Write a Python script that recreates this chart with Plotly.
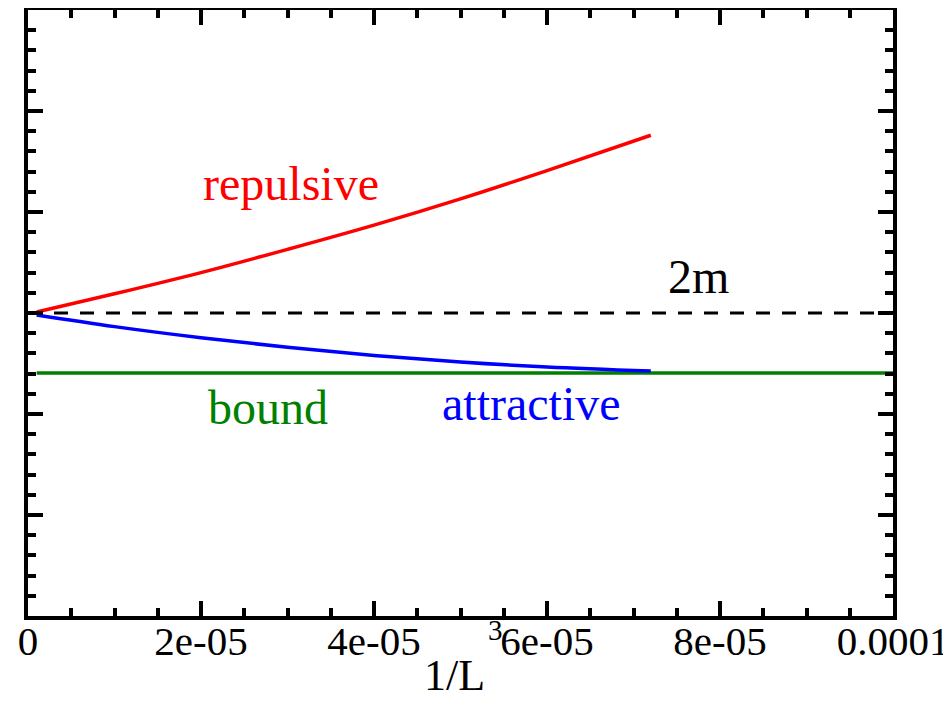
import plotly.graph_objects as go

# Data
x_curve = [1e-6, 1e-5, 2e-5, 3e-5, 4e-5, 5e-5, 6e-5, 7.2e-5]
y_repulsive = [3.01, 3.19, 3.40, 3.63, 3.87, 4.13, 4.41, 4.76]
y_attractive = [2.98, 2.865, 2.755, 2.66, 2.58, 2.515, 2.465, 2.425]
x_bound = [1e-6, 1e-4]
y_bound = [2.406, 2.406]
x_2m = [0, 1e-4]
y_2m = [3.0, 3.0]

x_tickvals = [0, 2e-5, 4e-5, 6e-5, 8e-5, 1e-4]
x_ticktext = ["0", "2e-05", "4e-05", "6e-05", "8e-05", "0.0001"]

FONT = "Liberation Serif"

fig = go.Figure()
fig.add_trace(go.Scatter(x=x_2m, y=y_2m, mode="lines",
                         line=dict(color="black", width=3, dash="14px,12px")))
fig.add_trace(go.Scatter(x=x_bound, y=y_bound, mode="lines",
                         line=dict(color="#008000", width=3.5)))
fig.add_trace(go.Scatter(x=x_curve, y=y_attractive, mode="lines",
                         line=dict(color="#0000ff", width=3.5, shape="spline")))
fig.add_trace(go.Scatter(x=x_curve, y=y_repulsive, mode="lines",
                         line=dict(color="#ff0000", width=3.5, shape="spline")))

# screen-pixel helpers (plot area spans x 28..893, y 10..616 on the page)
def px2x(px):
    return (px - 28) / 865 * 1e-4

def px2y(py):
    return (616 - py) / 101

labels = [
    ("repulsive", 291, 200, "#ff0000"),
    ("2m", 698, 293, "black"),
    ("bound", 268, 424, "#008000"),
    ("attractive", 531, 420, "#0000ff"),
]
for txt, cx, base, col in labels:
    fig.add_annotation(x=px2x(cx), y=px2y(base), text=txt, showarrow=False,
                       xanchor="center", yanchor="bottom", yshift=-12,
                       font=dict(family=FONT, size=48, color=col))

# axis title "1/L^3" as paper annotations
fig.add_annotation(x=(454 - 28) / 865, y=(616 - 702) / 606, xref="paper", yref="paper",
                   text="1/L", showarrow=False, xanchor="center", yanchor="bottom",
                   font=dict(family=FONT, size=44, color="black"))
fig.add_annotation(x=(496 - 28) / 865, y=(616 - 648) / 606, xref="paper", yref="paper",
                   text="3", showarrow=False, xanchor="center", yanchor="bottom",
                   font=dict(family=FONT, size=29, color="black"))

axis_common = dict(
    showline=True, linecolor="black", linewidth=4, mirror="allticks",
    ticks="inside", ticklen=15, tickwidth=3.5, tickcolor="black",
    showgrid=False, zeroline=False, automargin=False,
)

fig.update_xaxes(
    range=[0, 1e-4], tickvals=x_tickvals, ticktext=x_ticktext,
    tickfont=dict(family=FONT, size=41, color="black"),
    ticklabelstandoff=-14,
    minor=dict(ticks="inside", ticklen=8, tickwidth=3.5, tickcolor="black", dtick=5e-6, tick0=0),
    **axis_common,
)
fig.update_yaxes(
    range=[0, 6], dtick=1, tick0=0, showticklabels=False,
    minor=dict(ticks="inside", ticklen=8, tickwidth=3.5, tickcolor="black", dtick=0.2, tick0=0),
    **axis_common,
)

fig.update_layout(
    width=951, height=718,
    margin=dict(l=20, r=66, t=2, b=110),
    plot_bgcolor="white", paper_bgcolor="white",
    showlegend=False,
    font=dict(family=FONT, color="black", size=40),
)

fig.write_html("out.html")
